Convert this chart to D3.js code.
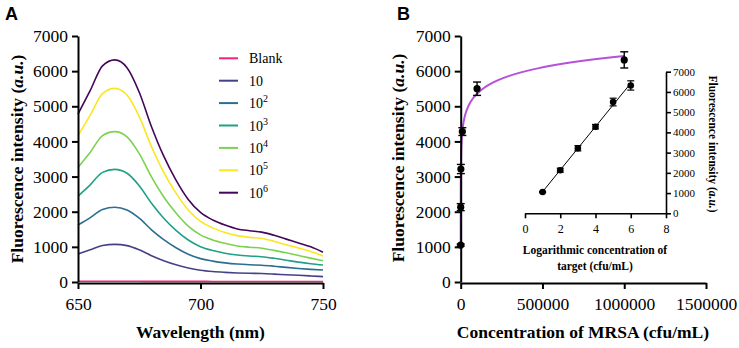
<!DOCTYPE html>
<html>
<head>
<meta charset="utf-8">
<script src="https://cdn.jsdelivr.net/npm/d3@7"></script>
<style>
  body { margin: 0; background: #fff; }
  svg { display: block; }
</style>
</head>
<body>
<div id="chart"></div>
<script>
// panel A: emission spectra
const wavelengths = [650, 655, 660, 665, 670, 675, 680, 685, 690, 695, 700,
    705, 710, 715, 720, 725, 730, 735, 740, 745, 750]
const seriesNames = ['Blank', '10', '10^2', '10^3', '10^4', '10^5', '10^6']
const seriesColors = ['#f5227c', '#454189', '#2c6e8e', '#1fa087', '#7bd24f', '#fbe622', '#43065a']
const blankValues = [20, 20, 22, 22, 20, 20, 18, 18, 18, 17, 17, 16, 16, 16, 15, 15, 15, 15, 14, 14, 14]
const c1Values = [797, 920, 1040, 1070, 1035, 915, 750, 608, 492, 400, 335, 298, 275, 258, 247, 240, 225, 207, 190, 172, 152]
const c2Values = [1620, 1830, 2065, 2125, 2050, 1815, 1485, 1205, 975, 790, 665, 595, 545, 510, 490, 478, 450, 415, 385, 360, 341]
const c3Values = [2445, 2765, 3120, 3205, 3095, 2740, 2240, 1815, 1470, 1195, 1005, 895, 820, 770, 740, 720, 675, 620, 565, 520, 484]
const c4Values = [3260, 3690, 4165, 4280, 4130, 3655, 2990, 2420, 1965, 1590, 1340, 1195, 1100, 1025, 990, 960, 900, 830, 755, 680, 607]
const c5Values = [4165, 4750, 5360, 5510, 5320, 4705, 3850, 3120, 2530, 2050, 1725, 1540, 1410, 1320, 1270, 1240, 1160, 1060, 970, 870, 740]
const c6Values = [4780, 5450, 6150, 6320, 6100, 5400, 4420, 3580, 2900, 2350, 1980, 1765, 1620, 1510, 1460, 1420, 1330, 1220, 1110, 1000, 845]
const spectra = [blankValues, c1Values, c2Values, c3Values, c4Values, c5Values, c6Values]

// panel B: calibration
const concentrations = [10, 100, 1000, 10000, 100000, 1000000]
const logConcentrations = [1, 2, 3, 4, 5, 6]
const intensities = [1050, 2130, 3215, 4280, 5500, 6320]
const errors = [30, 100, 130, 110, 190, 230]

const yTicks = [0, 1000, 2000, 3000, 4000, 5000, 6000, 7000]
const xTicksA = [650, 700, 750]
const xTicksB = [0, 500000, 1000000, 1500000]
const xTicksInset = [0, 2, 4, 6, 8]

const serif = "'Liberation Serif', 'Times New Roman', serif"
const sans = "'Liberation Sans', Arial, sans-serif"

const width = 739
const height = 348
const svg = d3.select('#chart').append('svg')
    .attr('width', width)
    .attr('height', height)

function label(g, x, y, size, txt) {
    return g.append('text')
        .attr('x', x).attr('y', y)
        .attr('text-anchor', 'middle')
        .style('font-family', serif)
        .style('font-weight', 'bold')
        .style('font-size', size + 'px')
        .text(txt)
}

function yTitle(g, x, y, rot, size, pre) {
    const t = g.append('text')
        .attr('transform', `translate(${x},${y}) rotate(${rot})`)
        .attr('text-anchor', 'middle')
        .style('font-family', serif)
        .style('font-weight', 'bold')
        .style('font-size', size + 'px')
    t.append('tspan').text(pre + ' (')
    t.append('tspan').style('font-style', 'italic').text('a.u.')
    t.append('tspan').text(')')
}

function styleAxis(g, w, fs) {
    g.selectAll('path, line').attr('stroke', '#000').attr('stroke-width', w)
    g.selectAll('text')
        .attr('fill', '#000')
        .style('font-family', serif)
        .style('font-size', fs + 'px')
}

const fmt = d3.format('d')

// ---------- A ----------
const xA = d3.scaleLinear().domain([650, 750]).range([78, 323])
const yA = d3.scaleLinear().domain([0, 7000]).range([282, 36])

const gA = svg.append('g')

const line = d3.line()
    .x((d, i) => xA(wavelengths[i]))
    .y(d => yA(d))
    .curve(d3.curveMonotoneX)

gA.selectAll('path.spec')
    .data(spectra)
    .enter()
    .append('path')
    .attr('class', 'spec')
    .attr('d', line)
    .attr('fill', 'none')
    .attr('stroke', (d, i) => seriesColors[i])
    .attr('stroke-width', 1.6)

gA.append('g')
    .attr('transform', 'translate(0,283)')
    .call(d3.axisBottom(xA).tickValues(xTicksA).tickFormat(fmt).tickSize(6).tickSizeOuter(0).tickPadding(9))
    .call(g => styleAxis(g, 2, 17.5))

gA.append('g')
    .attr('transform', 'translate(78,0)')
    .call(d3.axisLeft(yA).tickValues(yTicks).tickFormat(fmt).tickSize(6).tickSizeOuter(0).tickPadding(4))
    .call(g => styleAxis(g, 2, 17.5))

label(gA, 200.5, 338, 17.5, 'Wavelength (nm)')
yTitle(gA, 23, 159, -90, 17.5, 'Fluorescence intensity')

// legend
const legend = gA.selectAll('g.leg')
    .data(seriesNames)
    .enter()
    .append('g')
    .attr('class', 'leg')
    .attr('transform', (d, i) => `translate(219,${58.3 + i * 22.4})`)
legend.append('line')
    .attr('x1', 0).attr('x2', 19)
    .attr('stroke', (d, i) => seriesColors[i])
    .attr('stroke-width', 2)
legend.each(function(d) {
    const t = d3.select(this).append('text')
        .attr('x', 30).attr('y', 5)
        .style('font-family', serif)
        .style('font-size', '14px')
    const parts = d.split('^')
    t.append('tspan').text(parts[0])
    if (parts[1]) {
        t.append('tspan').attr('dy', -6).style('font-size', '10px').text(parts[1])
    }
})

svg.append('text')
    .attr('x', 5).attr('y', 20)
    .style('font-family', sans)
    .style('font-weight', 'bold')
    .style('font-size', '18px')
    .text('A')

// ---------- B ----------
const xB = d3.scaleLinear().domain([0, 1500000]).range([460.7, 706])
const yB = d3.scaleLinear().domain([0, 7000]).range([282, 36])
const gB = svg.append('g')

// log-linear fit of the calibration points
const meanL = d3.mean(logConcentrations)
const meanY = d3.mean(intensities)
const slope = d3.sum(logConcentrations, (l, i) => (l - meanL) * (intensities[i] - meanY)) /
    d3.sum(logConcentrations, l => (l - meanL) * (l - meanL))
const intercept = meanY - slope * meanL
const fitSteps = d3.range(1, 6.001, 0.02)

gB.append('path')
    .datum(fitSteps)
    .attr('d', d3.line()
        .x(l => xB(Math.pow(10, l)))
        .y(l => yB(intercept + slope * l)))
    .attr('fill', 'none')
    .attr('stroke', '#b552dc')
    .attr('stroke-width', 2)

function drawPoints(g, xs, x, y, r, capW, w) {
    const pts = g.selectAll(null)
        .data(intensities)
        .enter()
        .append('g')
    pts.append('line')
        .attr('x1', (d, i) => x(xs[i])).attr('x2', (d, i) => x(xs[i]))
        .attr('y1', (d, i) => y(d - errors[i])).attr('y2', (d, i) => y(d + errors[i]))
        .attr('stroke', '#000').attr('stroke-width', w)
    ;[-1, 1].forEach(s => {
        pts.append('line')
            .attr('x1', (d, i) => x(xs[i]) - capW).attr('x2', (d, i) => x(xs[i]) + capW)
            .attr('y1', (d, i) => y(d + s * errors[i])).attr('y2', (d, i) => y(d + s * errors[i]))
            .attr('stroke', '#000').attr('stroke-width', w)
    })
    pts.append('circle')
        .attr('cx', (d, i) => x(xs[i]))
        .attr('cy', d => y(d))
        .attr('r', r)
        .attr('fill', '#000')
}

// inset
const xI = d3.scaleLinear().domain([0, 8]).range([525, 666])
const yI = d3.scaleLinear().domain([0, 7000]).range([213.3, 71.7])

gB.append('line')
    .attr('x1', xI(1)).attr('x2', xI(6))
    .attr('y1', yI(intercept + slope)).attr('y2', yI(intercept + slope * 6))
    .attr('stroke', '#000').attr('stroke-width', 1)

drawPoints(gB, logConcentrations, xI, yI, 3.3, 3.5, 1.2)

gB.append('g')
    .attr('transform', 'translate(0,213.3)')
    .call(d3.axisBottom(xI).tickValues(xTicksInset).tickSize(5).tickSizeOuter(0).tickPadding(6))
    .call(g => styleAxis(g, 1.6, 12))

gB.append('g')
    .attr('transform', 'translate(666,0)')
    .call(d3.axisRight(yI).tickValues(yTicks).tickFormat(fmt).tickSize(5).tickSizeOuter(0).tickPadding(2))
    .call(g => styleAxis(g, 1.6, 11))

label(gB, 595, 254, 11.5, 'Logarithmic concentration of')
label(gB, 595, 270, 11.5, 'target (cfu/mL)')
yTitle(gB, 709, 144, 90, 11.5, 'Fluorescence intensity')

// main points
drawPoints(gB, concentrations, xB, yB, 3.6, 4, 1.4)

gB.append('g')
    .attr('transform', 'translate(0,283)')
    .call(d3.axisBottom(xB).tickValues(xTicksB).tickFormat(fmt).tickSize(6).tickSizeOuter(0).tickPadding(9))
    .call(g => styleAxis(g, 2, 17.5))

gB.append('g')
    .attr('transform', 'translate(460.7,0)')
    .call(d3.axisLeft(yB).tickValues(yTicks).tickFormat(fmt).tickSize(6).tickSizeOuter(0).tickPadding(4))
    .call(g => styleAxis(g, 2, 17.5))

label(gB, 583, 338, 17.5, 'Concentration of MRSA (cfu/mL)')
yTitle(gB, 404, 158, -90, 17.5, 'Fluorescence intensity')

svg.append('text')
    .attr('x', 397).attr('y', 20)
    .style('font-family', sans)
    .style('font-weight', 'bold')
    .style('font-size', '18px')
    .text('B')
</script>
</body>
</html>
